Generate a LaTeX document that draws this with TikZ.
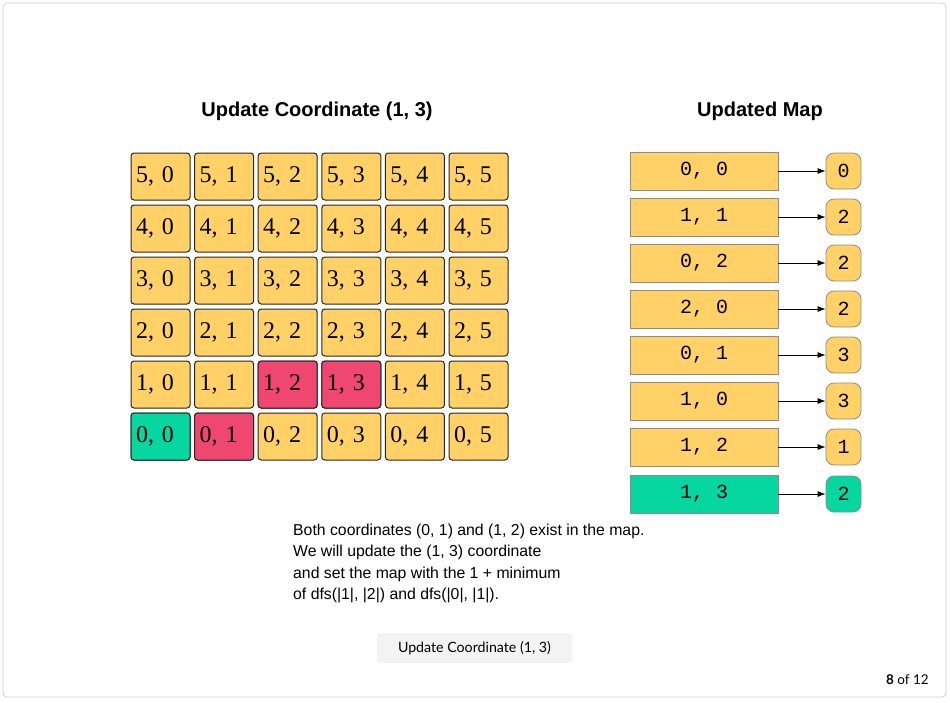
\documentclass[tikz,border=0pt]{standalone}
\usepackage{fontspec}
\setmainfont{Liberation Serif}
\setsansfont{Liberation Sans}
\setmonofont{Liberation Mono}
\newfontfamily\btnfont{Lato}
\usetikzlibrary{positioning,arrows.meta}
\definecolor{cellyellow}{HTML}{FFD166}
\definecolor{cellred}{HTML}{EF476F}
\definecolor{cellgreen}{HTML}{06D6A0}
\definecolor{framegray}{HTML}{D0D0D0}
\definecolor{btngray}{HTML}{F3F3F3}
\tikzset{
  gridcell/.style={draw=black!85, line width=1pt, rounded corners=3pt,
    fill=cellyellow, minimum width=59pt, minimum height=47pt,
    text width=49pt, align=left, inner sep=5pt,
    font=\fontsize{24}{24}\selectfont},
  mapkey/.style={draw=black!45, line width=0.8pt, fill=cellyellow,
    minimum width=148pt, minimum height=38pt, inner sep=0pt,
    font=\ttfamily\fontsize{20}{20}\selectfont},
  mapval/.style={draw=black!45, line width=0.8pt, fill=cellyellow,
    rounded corners=8pt, minimum width=35pt, minimum height=36pt, inner sep=0pt,
    font=\ttfamily\fontsize{20}{20}\selectfont},
  maparrow/.style={-{Latex[length=8pt,width=6pt]}, line width=0.8pt},
  heading/.style={font=\sffamily\bfseries\fontsize{20}{20}\selectfont}
}
\begin{document}
\begin{tikzpicture}[x=1pt,y=-1pt]
  \useasboundingbox (0,0) rectangle (950,702);
  \draw[framegray, line width=0.8pt, rounded corners=4pt] (3,3) rectangle (946,697);

  % headings
  \node[heading] (gridtitle) at (317,111) {Update Coordinate (1, 3)};
  \node[heading] (maptitle) at (760,111) {Updated Map};

  % grid of coordinates, row 5 on top
  \foreach \r in {0,...,5}
    \foreach \c in {0,...,5}
      \node[gridcell] (g\r\c) at ({160.5+63.6*\c},{436.5-52*\r}) {\r, \c};
  \node[gridcell, fill=cellgreen] at (g00) {0, 0};
  \node[gridcell, fill=cellred] at (g01) {0, 1};
  \node[gridcell, fill=cellred] at (g12) {1, 2};
  \node[gridcell, fill=cellred] at (g13) {1, 3};

  % updated map
  \node[mapkey] (k0) at (704,171) {0, 0};
  \node[mapkey] (k1) at (704,217) {1, 1};
  \node[mapkey] (k2) at (704,263) {0, 2};
  \node[mapkey] (k3) at (704,309) {2, 0};
  \node[mapkey] (k4) at (704,355) {0, 1};
  \node[mapkey] (k5) at (704,401) {1, 0};
  \node[mapkey] (k6) at (704,447) {1, 2};
  \node[mapkey, fill=cellgreen] (k7) at (704,494) {1, 3};
  \node[mapval] (v0) at (843.5,171) {0};
  \node[mapval] (v1) at (843.5,217) {2};
  \node[mapval] (v2) at (843.5,263) {2};
  \node[mapval] (v3) at (843.5,309) {2};
  \node[mapval] (v4) at (843.5,355) {3};
  \node[mapval] (v5) at (843.5,401) {3};
  \node[mapval] (v6) at (843.5,447) {1};
  \node[mapval, fill=cellgreen] (v7) at (843.5,494) {2};
  \begin{scope}[maparrow]
    \draw (k0) to (v0);
    \draw (k1) to (v1);
    \draw (k2) to (v2);
    \draw (k3) to (v3);
    \draw (k4) to (v4);
    \draw (k5) to (v5);
    \draw (k6) to (v6);
    \draw (k7) to (v7);
  \end{scope}

  % explanation
  \node[anchor=north west, inner sep=0pt, align=left,
    font=\sffamily\fontsize{15.8}{21.5}\selectfont] (note) at (293,523.5)
    {Both coordinates (0, 1) and (1, 2) exist in the map.\\
     We will update the (1, 3) coordinate\\
     and set the map with the 1 + minimum\\
     of dfs(|1|, |2|) and dfs(|0|, |1|).};

  % button and pager
  \node[fill=btngray, rounded corners=4pt, minimum width=195pt, minimum height=30pt,
    font=\btnfont\fontsize{14.2}{14.2}\selectfont] (button) at (474.5,648)
    {Update Coordinate (1, 3)};
  \node[anchor=east, inner sep=0pt, font=\btnfont\fontsize{13.5}{13.5}\selectfont]
    (pager) at (929,680) {\textbf{8} of 12};
\end{tikzpicture}
\end{document}
